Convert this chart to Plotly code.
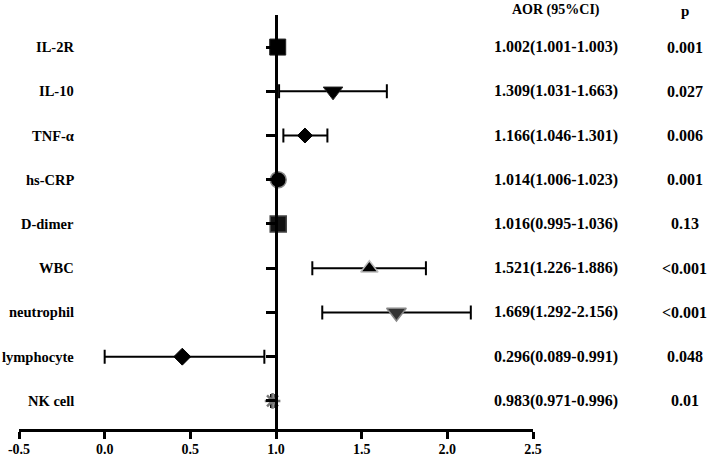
import plotly.graph_objects as go

# ---- data ----
labels = ["IL-2R", "IL-10", "TNF-α", "hs-CRP", "D-dimer", "WBC", "neutrophil", "lymphocyte", "NK cell"]
aor_point = [1.010, 1.333, 1.169, 1.013, 1.013, 1.545, 1.703, 0.453, 0.980]
ci_low = [1.001, 1.018, 1.043, 1.006, 0.995, 1.212, 1.270, 0.000, 0.971]
ci_high = [1.003, 1.647, 1.300, 1.023, 1.036, 1.875, 2.137, 0.932, 0.996]
aor_text = ["1.002(1.001-1.003)", "1.309(1.031-1.663)", "1.166(1.046-1.301)", "1.014(1.006-1.023)",
            "1.016(0.995-1.036)", "1.521(1.226-1.886)", "1.669(1.292-2.156)", "0.296(0.089-0.991)",
            "0.983(0.971-0.996)"]
p_text = ["0.001", "0.027", "0.006", "0.001", "0.13", "<0.001", "<0.001", "0.048", "0.01"]
x_ticks = [-0.5, 0.0, 0.5, 1.0, 1.5, 2.0, 2.5]
x_tick_text = ["-0.5", "0.0", "0.5", "1.0", "1.5", "2.0", "2.5"]

# ---- styles ----
n = len(labels)
rows = list(range(n, 0, -1))
symbols = ["square", "triangle-down", "diamond", "circle", "square", "triangle-up", "triangle-down", "diamond", "asterisk-open"]
sizes = [16, 17, 11.5, 16, 16, 15, 17, 13, 13]
fills = ["black", "black", "black", "black", "#111111", "black", "#333333", "black", "#777777"]
edges = ["#222222", "#222222", "black", "#888888", "#444444", "#bbbbbb", "#888888", "black", "#777777"]
edge_w = [1, 1, 1, 1.5, 1.5, 1.5, 1.5, 1, 2.5]

serif = "Liberation Serif"

fig = go.Figure()
fig.add_trace(go.Scatter(
    x=aor_point, y=rows, mode="markers",
    marker=dict(symbol=symbols, size=sizes, color=fills, opacity=1,
                line=dict(color=edges, width=edge_w)),
    error_x=dict(type="data", symmetric=False,
                 array=[h - p for h, p in zip(ci_high, aor_point)],
                 arrayminus=[p - l for p, l in zip(aor_point, ci_low)],
                 color="black", thickness=2, width=7),
    showlegend=False, cliponaxis=False, hoverinfo="skip",
))

ann = []
for r, lab, a, p in zip(rows, labels, aor_text, p_text):
    ann.append(dict(x=-0.165, y=r, xref="x", yref="y", text=f"<b>{lab}</b>", showarrow=False,
                    xanchor="right", yanchor="middle", font=dict(family=serif, size=14.5, color="black")))
    ann.append(dict(x=1.0447, y=r, xref="paper", yref="y", text=f"<b>{a}</b>", showarrow=False,
                    xanchor="center", yanchor="middle", font=dict(family=serif, size=16, color="black")))
    ann.append(dict(x=1.2957, y=r, xref="paper", yref="y", text=f"<b>{p.replace('<', '&lt;')}</b>", showarrow=False,
                    xanchor="center", yanchor="middle", font=dict(family=serif, size=16, color="black")))
ann.append(dict(x=1.0447, y=1.012, xref="paper", yref="paper", text="<b>AOR (95%CI)</b>",
                showarrow=False, xanchor="center", yanchor="middle",
                font=dict(family=serif, size=14, color="black")))
ann.append(dict(x=1.2957, y=1.010, xref="paper", yref="paper", text="<b>p</b>",
                showarrow=False, xanchor="center", yanchor="middle",
                font=dict(family=serif, size=15, color="black")))

fig.update_layout(
    width=709, height=456,
    margin=dict(l=19, r=176, t=15, b=27, autoexpand=False),
    paper_bgcolor="white", plot_bgcolor="white",
    annotations=ann,
    xaxis=dict(range=[-0.5, 2.5], tickvals=x_ticks, ticktext=[f"<b>{t}</b>" for t in x_tick_text],
               showgrid=False, zeroline=False,
               showline=True, linecolor="black", linewidth=3, ticks="outside", ticklen=7, tickwidth=3,
               tickcolor="black", tickfont=dict(family=serif, size=14, color="black"),
               ticklabelstandoff=-2),
    yaxis=dict(range=[0.365, 9.725], anchor="free", position=0.5, showgrid=False, zeroline=False,
               showline=True, linecolor="black", linewidth=3, ticks="outside", ticklen=9, tickwidth=2.5,
               tickcolor="black", tickvals=rows, showticklabels=False),
)

fig.write_html("out.html", config={"displayModeBar": False},
               post_script="document.body.style.margin='0px';")
